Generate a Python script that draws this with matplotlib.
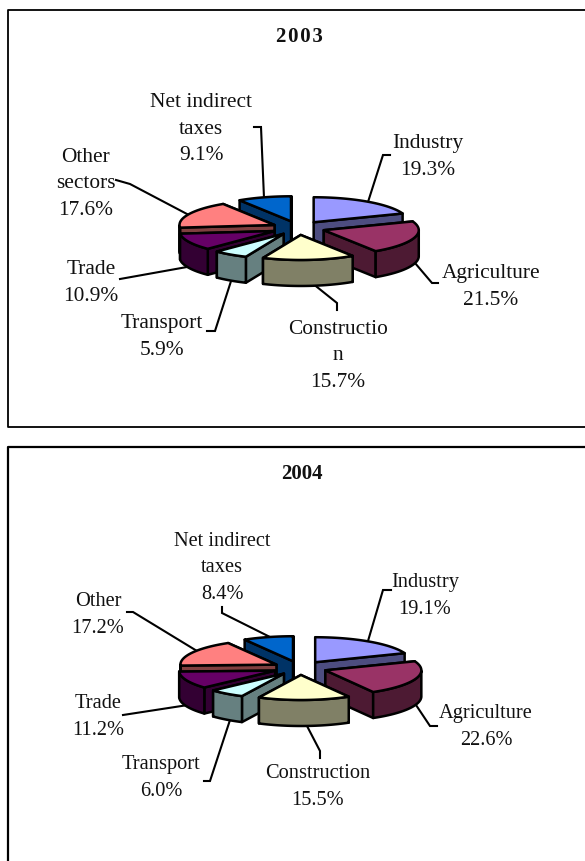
import numpy as np
import matplotlib
matplotlib.use("Agg")
import matplotlib.pyplot as plt

plt.rcParams['font.family'] = ['Liberation Serif', 'DejaVu Serif']

# slices go clockwise from 12 o'clock
sectors_2003 = ['Industry', 'Agriculture', 'Construction', 'Transport', 'Trade', 'Other sectors', 'Net indirect taxes']
values_2003 = [19.3, 21.5, 15.7, 5.9, 10.9, 17.6, 9.1]
sectors_2004 = ['Industry', 'Agriculture', 'Construction', 'Transport', 'Trade', 'Other', 'Net indirect taxes']
values_2004 = [19.1, 22.6, 15.5, 6.0, 11.2, 17.2, 8.4]

top_colors = ['#9999FF', '#993366', '#FFFFCC', '#CCFFFF', '#660066', '#FF8080', '#0066CC']
side_colors = ['#4D4D80', '#4D1A33', '#808066', '#668080', '#330033', '#804040', '#003366']

# label text as wrapped in the original, centre x, centre y (pixels)
names_2003 = ['Industry', 'Agriculture', 'Constructio\nn', 'Transport', 'Trade', 'Other\nsectors', 'Net indirect\ntaxes']
label_pos_2003 = [(428, 157), (491, 287), (338, 356), (162, 337), (91, 283), (86, 184), (201, 129)]
names_2004 = ['Industry', 'Agriculture', 'Construction', 'Transport', 'Trade', 'Other', 'Net indirect\ntaxes']
label_pos_2004 = [(425, 596), (486, 727), (318, 787), (161, 778), (98, 717), (98, 615), (222, 568)]

# leader lines, one per slice
leaders_2003 = [
    [(368, 202), (383, 155), (390, 155)],
    [(415, 263), (432, 283), (438, 283)],
    [(312, 283), (337, 303), (337, 310)],
    [(232, 278), (215, 331), (207, 331)],
    [(187, 267), (120, 279)],
    [(187, 214), (130, 184), (116, 180)],
    [(264, 198), (261, 127), (254, 127)],
]
leaders_2004 = [
    [(368, 641), (383, 590), (391, 590)],
    [(416, 705), (430, 726), (437, 726)],
    [(307, 726), (320, 751), (320, 758)],
    [(230, 720), (210, 781), (204, 781)],
    [(188, 705), (123, 715)],
    [(197, 651), (133, 612), (127, 612)],
    [(270, 637), (222, 613), (222, 607)],
]

LW = 1.8


def draw_pie(ax, values, cx, cy, rx, ry, depth, explode=0.28):
    values = np.array(values) / np.sum(values)
    edges = np.concatenate([[0], np.cumsum(values)]) * 2 * np.pi
    mids = (edges[:-1] + edges[1:]) / 2
    for i in np.argsort(-np.cos(mids)):
        x0 = cx + explode * rx * np.sin(mids[i])
        y0 = cy - explode * ry * np.cos(mids[i])
        t = np.linspace(edges[i], edges[i + 1], 60)
        rim_x = x0 + rx * np.sin(t)
        rim_y = y0 - ry * np.cos(t)

        def poly(xs, ys, color):
            ax.fill(xs, ys, facecolor=color, edgecolor='black', linewidth=LW, joinstyle='round', zorder=2)

        # radial walls, back one first
        ends = [0, -1] if rim_y[0] < rim_y[-1] else [-1, 0]
        for e in ends:
            poly([x0, rim_x[e], rim_x[e], x0], [y0, rim_y[e], rim_y[e] + depth, y0 + depth], side_colors[i])
        # outer wall, only the part facing front
        front = (t >= np.pi / 2) & (t <= 3 * np.pi / 2)
        if front.sum() > 1:
            fx = rim_x[front]
            fy = rim_y[front]
            poly(np.r_[fx, fx[::-1]], np.r_[fy, fy[::-1] + depth], side_colors[i])
        poly(np.r_[x0, rim_x], np.r_[y0, rim_y], top_colors[i])


def draw_labels(ax, names, values, label_pos, leaders, size):
    for name, val, pos, line in zip(names, values, label_pos, leaders):
        ax.text(pos[0], pos[1], name + '\n%.1f%%' % val, ha='center', va='center', ma='center',
                fontsize=size, color='#111111', linespacing=1.53, zorder=5)
        xs, ys = zip(*line)
        ax.plot(xs, ys, color='black', linewidth=1.5, solid_joinstyle='miter', zorder=1)


fig = plt.figure(figsize=(5.85, 8.61), dpi=100)
ax = fig.add_axes([0, 0, 1, 1])
ax.set_xlim(0, 585)
ax.set_ylim(861, 0)
ax.axis('off')

# frames run off the right edge, the lower one also off the bottom
ax.plot([590, 7.5, 7.5, 590], [9.5, 9.5, 427, 427], color='black', linewidth=1.3, zorder=1)
ax.plot([590, 8, 8], [447, 447, 870], color='black', linewidth=1.6, zorder=1)

ax.text(299, 37, '2\u200a0\u200a0\u200a3', ha='center', va='center', fontsize=15, fontweight='bold', color='#111111')
ax.text(302, 474, '2004', ha='center', va='center', fontsize=15, fontweight='bold', color='#111111')

draw_pie(ax, values_2003, 298.5, 228, 95, 25, 26)
draw_pie(ax, values_2004, 300, 668, 96, 25, 26)
draw_labels(ax, names_2003, values_2003, label_pos_2003, leaders_2003, 15.4)
draw_labels(ax, names_2004, values_2004, label_pos_2004, leaders_2004, 14.7)

fig.savefig('out.png', dpi=100)
